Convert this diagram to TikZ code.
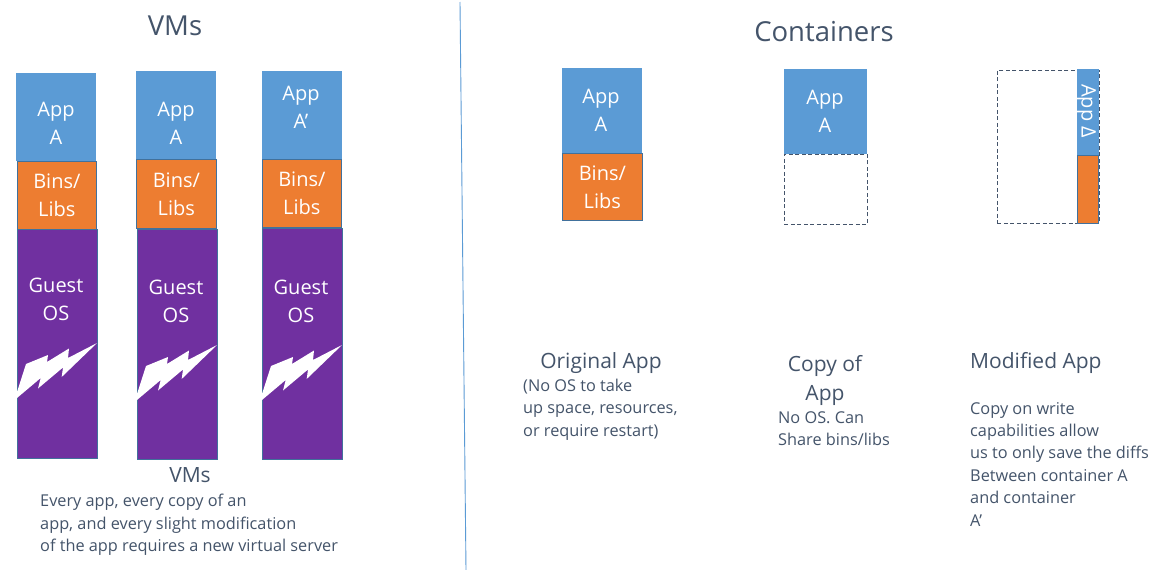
\documentclass[tikz,border=0pt]{standalone}
\usepackage{fontspec}
\setmainfont{Open Sans}
\definecolor{appblue}{HTML}{5B9BD5}
\definecolor{binorange}{HTML}{ED7D31}
\definecolor{ospurple}{HTML}{7030A0}
\definecolor{edgeblue}{HTML}{41719C}
\definecolor{slate}{HTML}{44546A}
\tikzset{
    appbox/.style={fill=appblue, text=white, anchor=north west, inner sep=0pt, align=center, font=\fontsize{20}{28}\selectfont},
    binbox/.style={fill=binorange, draw=edgeblue, line width=0.7pt, text=white, anchor=north west, inner sep=0pt, align=center, font=\fontsize{20}{28}\selectfont},
    osbox/.style={fill=ospurple, draw=edgeblue, line width=0.7pt, anchor=north west, inner sep=0pt},
    boxlabel/.style={text=white, align=center, font=\fontsize{20}{28}\selectfont},
    emptybox/.style={draw=slate, line width=0.7pt, dash pattern=on 4pt off 2.5pt, anchor=north west, inner sep=0pt},
    title/.style={text=slate, font=\fontsize{27.5}{32}\selectfont},
    heading/.style={text=slate, align=center, font=\fontsize{21}{29}\selectfont},
    note/.style={text=slate, align=left, anchor=north west, inner sep=0pt, font=\fontsize{16.3}{22.4}\selectfont},
    bolt/.pic={
        \fill[white] (0,0) -- (0,-6) -- (9,-34) -- (31,-43) -- (30,-36) -- (52,-49.5) -- (51,-40) -- (80,-55)
            -- (44.7,-21) -- (46,-30.5) -- (21,-9.5) -- (23.7,-20) -- cycle;
    }
}
\begin{document}
\begin{tikzpicture}[x=1pt, y=-1pt]
    \path[use as bounding box, fill=white] (0,0) rectangle (1160,570);
    % divider
    \coordinate (dividertop) at (460,2);
    \coordinate (dividerbottom) at (466,570);
    \draw[appblue, line width=0.9pt] (dividertop) -- (dividerbottom);
    % VMs
    \node[title] (vmtitle) at (175,26) {VMs};
    \node[appbox, minimum width=80pt, minimum height=88pt] (appa) at (16,73) {};
    \node[boxlabel] (appalabel) at (56,123) {App\\A};
    \node[osbox, minimum width=80pt, minimum height=229pt] (osa) at (17,229) {};
    \node[binbox, minimum width=79pt, minimum height=68pt] (binsa) at (17,161) {Bins/\\Libs};
    \node[boxlabel] (guesta) at (56,299) {Guest\\OS};
    \pic at (17,398) {bolt};
    \node[appbox, minimum width=80pt, minimum height=88pt] (appb) at (136,71) {};
    \node[boxlabel] (appblabel) at (176,123) {App\\A};
    \node[osbox, minimum width=80pt, minimum height=230pt] (osb) at (137,229) {};
    \node[binbox, minimum width=80pt, minimum height=69pt] (binsb) at (136,159) {Bins/\\Libs};
    \node[boxlabel] (guestb) at (176,301) {Guest\\OS};
    \pic at (137,400) {bolt};
    \node[appbox, minimum width=80pt, minimum height=88pt] (appc) at (262,71) {};
    \node[boxlabel] (appclabel) at (301,107) {App\\A’};
    \node[osbox, minimum width=80pt, minimum height=231pt] (osc) at (262,228) {};
    \node[binbox, minimum width=79pt, minimum height=68pt] (binsc) at (262,159) {Bins/\\Libs};
    \node[boxlabel] (guestc) at (301,301) {Guest\\OS};
    \pic at (262,400) {bolt};
    \node[heading] (vmhead) at (190,475) {VMs};
    \node[note] (vmnote) at (40,494) {Every app, every copy of an\\app, and every slight modification\\of the app requires a new virtual server};
    % Containers
    \node[title] (containertitle) at (824,32) {Containers};
    \node[appbox, minimum width=80pt, minimum height=85pt] (apporig) at (562,68) {};
    \node[boxlabel] (apporiglabel) at (601,110) {App\\A};
    \node[binbox, minimum width=80pt, minimum height=67pt] (binsorig) at (562,153) {Bins/\\Libs};
    \node[emptybox, minimum width=83pt, minimum height=70pt] (binscopy) at (784,154) {};
    \node[appbox, minimum width=83pt, minimum height=85pt] (appcopy) at (784,69) {};
    \node[boxlabel] (appcopylabel) at (825,111) {App\\A};
    \node[emptybox, minimum width=102pt, minimum height=153pt] (emptymod) at (997,70) {};
    \node[fill=appblue, minimum width=22pt, minimum height=86pt, inner sep=0pt, anchor=north west] (appmod) at (1077,69) {};
    \node[text=white, rotate=-90, font=\fontsize{20}{22}\selectfont] (appmodlabel) at (1086.5,111) {App Δ};
    \node[fill=binorange, draw=edgeblue, line width=0.7pt, minimum width=21pt, minimum height=68pt, inner sep=0pt, anchor=north west] (binsmod) at (1077,155) {};
    \node[heading] (orighead) at (601,363) {Original App};
    \node[note] (orignote) at (523,379) {(No OS to take\\up space, resources,\\or require restart)};
    \node[heading] (copyhead) at (825,380) {Copy of\\App};
    \node[note] (copynote) at (778,411) {No OS. Can\\Share bins/libs};
    \node[heading, anchor=west, inner sep=0pt] (modhead) at (970,363) {Modified App};
    \node[note] (modnote) at (970,402) {Copy on write\\capabilities allow\\us to only save the diffs\\Between container A\\and container\\A’};
\end{tikzpicture}
\end{document}
